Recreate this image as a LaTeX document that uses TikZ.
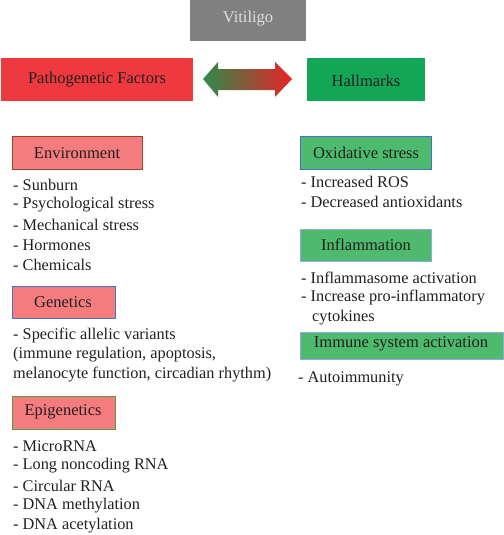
\documentclass[tikz,border=0pt]{standalone}
\usepackage{fontspec}
\setmainfont{Liberation Serif}
\definecolor{txt}{HTML}{231F20}
\definecolor{vgray}{HTML}{808080}
\definecolor{pred}{HTML}{EE3A3E}
\definecolor{hgreen}{HTML}{13A657}
\definecolor{pink}{HTML}{F47C7E}
\definecolor{mgreen}{HTML}{4DBA6E}
\definecolor{brownb}{HTML}{A0412A}
\definecolor{blueb}{HTML}{4472C4}
\definecolor{lblueb}{HTML}{8FAADC}
\definecolor{greenb}{HTML}{5A9A3A}
\definecolor{agreen}{HTML}{2E8B4A}
\definecolor{ared}{HTML}{E82228}
\begin{document}
\begin{tikzpicture}[x=1pt,y=-1pt,
  font=\fontsize{16.5}{19}\selectfont,
  hdr/.style={draw=none,inner sep=0pt,text=txt},
  item/.style={anchor=west,inner sep=0pt,text=txt,font=\fontsize{16.3}{19}\selectfont}]
\useasboundingbox (0,0) rectangle (503,535);
% top boxes
\fill[vgray] (190,0) rectangle (306,41);
\node[hdr,text=white!88!black] (vit) at (248,19) {Vitiligo};
\fill[pred] (1,58) rectangle (193,101);
\node[hdr] (pf) at (97,80) {Pathogenetic Factors};
\fill[hgreen] (307,58) rectangle (425,101);
\node[hdr] (hm) at (366,81) {Hallmarks};
% double arrow
\coordinate (al) at (203,79);
\coordinate (ar) at (292,79);
\shade[left color=agreen,right color=ared]
  (al) -- (218,62) -- (218,69) -- (275,69) -- (275,62) -- (ar)
  -- (275,97) -- (275,90) -- (218,90) -- (218,97) -- cycle;
% left column
\filldraw[fill=pink,draw=brownb,line width=1pt] (12,136) rectangle (142,169);
\node[hdr] (env) at (77,153) {Environment};
\node[item] (e1) at (13,185) {- Sunburn};
\node[item] (e2) at (13,205) {- Psychological stress};
\node[item] (e3) at (13,225) {- Mechanical stress};
\node[item] (e4) at (13,245) {- Hormones};
\node[item] (e5) at (13,265) {- Chemicals};
\filldraw[fill=pink,draw=blueb,line width=1pt] (12,286) rectangle (115,318);
\node[hdr] (gen) at (63,302) {Genetics};
\node[item] (g1) at (13,335) {- Specific allelic variants};
\node[item] (g2) at (13,355) {(immune regulation, apoptosis,};
\node[item] (g3) at (13,375) {melanocyte function, circadian rhythm)};
\filldraw[fill=pink,draw=greenb,line width=1pt] (12,396) rectangle (115,429);
\node[hdr] (epi) at (63,412) {Epigenetics};
\node[item] (p1) at (13,446) {- MicroRNA};
\node[item] (p2) at (13,466) {- Long noncoding RNA};
\node[item] (p3) at (13,486) {- Circular RNA};
\node[item] (p4) at (13,506) {- DNA methylation};
\node[item] (p5) at (13,526) {- DNA acetylation};
% right column
\filldraw[fill=mgreen,draw=blueb,line width=1pt] (300,136) rectangle (431,169);
\node[hdr] (ox) at (366,153) {Oxidative stress};
\node[item] (o1) at (301,182) {- Increased ROS};
\node[item] (o2) at (301,202) {- Decreased antioxidants};
\filldraw[fill=mgreen,draw=lblueb,line width=1pt] (300,229) rectangle (431,261);
\node[hdr] (inf) at (366,245) {Inflammation};
\node[item] (i1) at (301,278) {- Inflammasome activation};
\node[item] (i2) at (301,298) {- Increase pro-inflammatory};
\node[item] (i3) at (312,318) {cytokines};
\filldraw[fill=mgreen,draw=lblueb,line width=1pt] (300,332) rectangle (503,359);
\node[hdr] (imm) at (401,344) {Immune system activation};
\node[item] (m1) at (298,379) {- Autoimmunity};
\end{tikzpicture}
\end{document}
